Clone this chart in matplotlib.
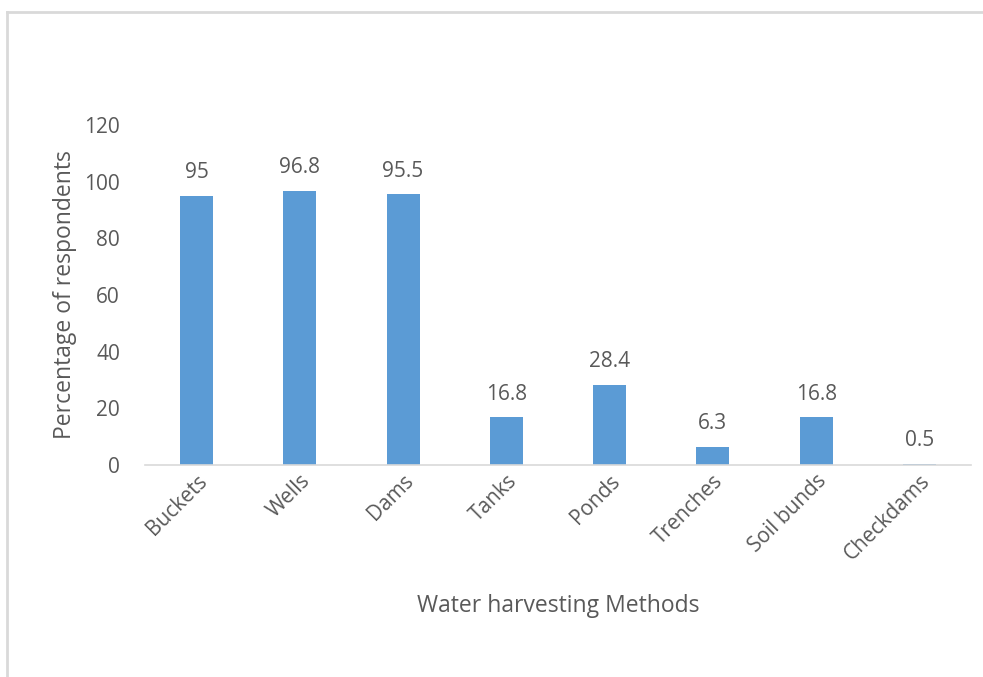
import matplotlib.pyplot as plt
from matplotlib.lines import Line2D

methods = ['Buckets', 'Wells', 'Dams', 'Tanks', 'Ponds', 'Trenches', 'Soil bunds', 'Checkdams']
percent = [95, 96.8, 95.5, 16.8, 28.4, 6.3, 16.8, 0.5]
yticks = [0, 20, 40, 60, 80, 100, 120]

plt.rcParams['font.family'] = ['Open Sans', 'DejaVu Sans']
grey = '#595959'

fig = plt.figure(figsize=(9.83, 6.77), dpi=100)
ax = fig.add_axes([0.1475, 0.3131, 0.8403, 0.5023])

x = range(len(methods))
bars = ax.bar(x, percent, width=0.32, color='#5B9BD5')
for b, v in zip(bars, percent):
    ax.text(b.get_x() + b.get_width() / 2, v + 4.5, f'{v:g}', ha='center', va='bottom',
            fontsize=15, color=grey)

ax.set_xlim(-0.5, len(methods) - 0.5)
ax.set_ylim(0, 120)
ax.set_yticks(yticks)
ax.tick_params(axis='y', length=0, labelsize=15, labelcolor=grey, pad=18)
ax.tick_params(axis='x', length=0, labelsize=15, labelcolor=grey, pad=4)
ax.set_xticks(list(x))
ax.set_xticklabels(methods, rotation=45, ha='right', rotation_mode='anchor')
for s in ['top', 'right', 'left']:
    ax.spines[s].set_visible(False)
ax.spines['bottom'].set_color('#D9D9D9')
ax.spines['bottom'].set_linewidth(1.2)

ax.set_ylabel('Percentage of respondents', fontsize=16.5, color=grey, labelpad=5)
fig.text(0.568, 0.105, 'Water harvesting Methods', ha='center', va='center',
         fontsize=16.5, color=grey)

# light frame around the chart area
fig.add_artist(Line2D([0.0075, 1.0], [1 - 12 / 677] * 2, color='#D9D9D9', lw=2,
                      transform=fig.transFigure))
fig.add_artist(Line2D([0.0075, 0.0075], [0, 1 - 12 / 677], color='#D9D9D9', lw=2,
                      transform=fig.transFigure))

fig.savefig('out.png', dpi=100)
